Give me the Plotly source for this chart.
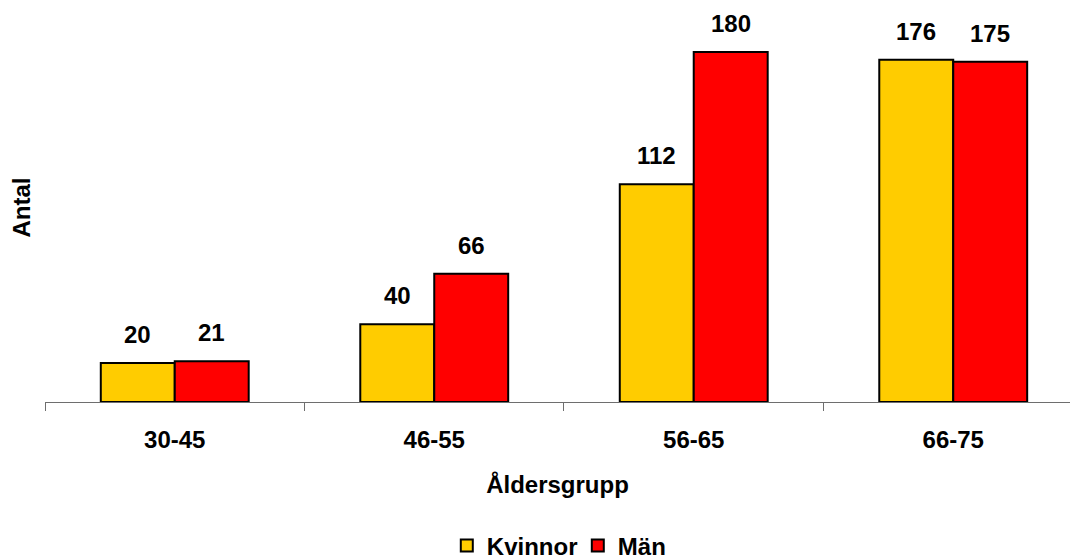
import plotly.graph_objects as go

# Antal per åldersgrupp och kön
age_groups = ["30-45", "46-55", "56-65", "66-75"]
women = [20, 40, 112, 176]
men = [21, 66, 180, 175]

FONT = "Arial, 'Liberation Sans', sans-serif"
BAR_W = 0.285  # width of one bar in category units

fig = go.Figure()
fig.add_trace(go.Bar(
    name="Kvinnor", x=age_groups, y=women,
    marker=dict(color="#FFCC00", line=dict(color="#000000", width=2)),
))
fig.add_trace(go.Bar(
    name="Män", x=age_groups, y=men,
    marker=dict(color="#FF0000", line=dict(color="#000000", width=2)),
))

# value labels above each bar
for series, offset in ((women, -BAR_W / 2), (men, BAR_W / 2)):
    for i, v in enumerate(series):
        fig.add_annotation(
            x=i + offset, y=v, xref="x", yref="y",
            text=f"<b>{v}</b>", showarrow=False,
            yanchor="bottom", yshift=13,
            font=dict(family=FONT, size=24, color="#000000"),
        )

fig.update_layout(
    width=1070, height=559,
    margin=dict(l=45, r=0, t=13, b=157, autoexpand=False),
    paper_bgcolor="white", plot_bgcolor="white",
    barmode="group", bargap=0.43, bargroupgap=0,
    showlegend=True,
    legend=dict(
        orientation="h", x=0.392, xanchor="left",
        y=-0.370, yanchor="middle",
        font=dict(family=FONT, size=24, color="#000000", weight="bold"),
        itemwidth=30, entrywidth=86, entrywidthmode="pixels",
        bgcolor="rgba(0,0,0,0)",
    ),
    font=dict(family=FONT, color="#000000"),
)

fig.update_xaxes(
    type="category", range=[-0.5, 3.45],
    showline=True, linecolor="#6e6e6e", linewidth=1,
    ticks="outside", tickson="boundaries", ticklen=8,
    tickcolor="#6e6e6e", tickwidth=1,
    tickfont=dict(family=FONT, size=24, color="#000000", weight="bold"),
    ticklabelstandoff=16,
    showgrid=False, zeroline=False,
    title=dict(text="<b>Åldersgrupp</b>", standoff=24,
               font=dict(family=FONT, size=24, color="#000000")),
    automargin=False, fixedrange=True,
)
fig.update_yaxes(
    range=[0, 200], showline=False, showgrid=False, zeroline=False,
    showticklabels=False, ticks="",
    title=dict(text="<b>Antal</b>", standoff=6,
               font=dict(family=FONT, size=24, color="#000000")),
    automargin=False, fixedrange=True,
)

fig.write_html("out.html")
